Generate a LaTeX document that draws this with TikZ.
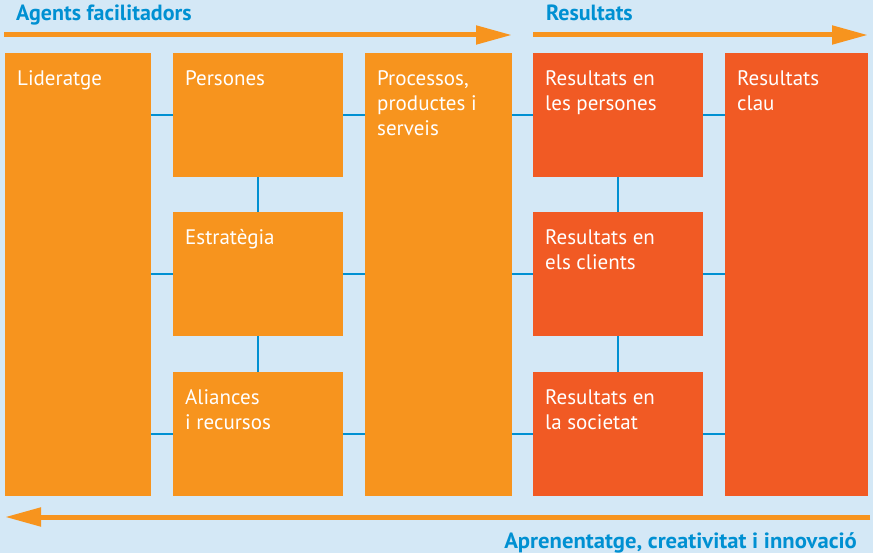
\documentclass[tikz,border=0pt]{standalone}
\usepackage{fontspec}
\setmainfont{PT Sans}
\usetikzlibrary{arrows.meta}
\definecolor{bg}{HTML}{D4E8F6}
\definecolor{orng}{HTML}{F7941E}
\definecolor{redo}{HTML}{F15A24}
\definecolor{blu}{HTML}{0090D2}
\tikzset{
  box/.style={draw=none, inner sep=0pt, outer sep=0pt, anchor=north west},
  boxtext/.style={anchor=north west, align=left, inner sep=0pt, text=white,
    font=\fontsize{21}{25}\selectfont},
  conn/.style={draw=blu, line width=2.5pt},
  bigarrow/.style={draw=orng, line width=5pt, -{Triangle[length=36pt,width=18pt]}, orng},
  head/.style={text=blu, inner sep=0pt, font=\bfseries\fontsize{22}{24}\selectfont}
}
\newcommand{\mybox}[7]{%
  \node[box, fill=#6, minimum width=#4pt, minimum height=#5pt] (#1) at (#2,#3) {};
  \node[boxtext] (#1t) at ([xshift=12pt,yshift=-17pt]#1.north west) {#7};
}
\begin{document}
\begin{tikzpicture}[x=1pt,y=-1pt]
\fill[bg] (0,0) rectangle (873,553);
\useasboundingbox (0,0) rectangle (873,553);

% boxes
\mybox{lid}{5}{53}{146}{443}{orng}{Lideratge}
\mybox{per}{173}{53}{170}{124}{orng}{Persones}
\mybox{est}{173}{212}{170}{124}{orng}{Estratègia}
\mybox{ali}{173}{372}{170}{124}{orng}{Aliances\\i recursos}
\mybox{pro}{365}{53}{147}{443}{orng}{Processos,\\productes i\\serveis}
\mybox{rp}{533}{53}{170}{124}{redo}{Resultats en\\les persones}
\mybox{rc}{533}{212}{170}{124}{redo}{Resultats en\\els clients}
\mybox{rs}{533}{372}{170}{124}{redo}{Resultats en\\la societat}
\mybox{cla}{725}{53}{143}{443}{redo}{Resultats\\clau}

% connectors
\foreach \m in {per,est,ali}{
  \draw[conn] (\m.west) -- (\m.west -| lid.east);
  \draw[conn] (\m.east) -- (\m.east -| pro.west);
}
\foreach \m in {rp,rc,rs}{
  \draw[conn] (\m.west) -- (\m.west -| pro.east);
  \draw[conn] (\m.east) -- (\m.east -| cla.west);
}
\draw[conn] (per.south) -- (est.north);
\draw[conn] (est.south) -- (ali.north);
\draw[conn] (rp.south) -- (rc.north);
\draw[conn] (rc.south) -- (rs.north);

% arrows
\coordinate (a1s) at (4,35);
\coordinate (a1e) at (512,35);
\coordinate (a2s) at (533,35);
\coordinate (a2e) at (868,35);
\coordinate (a3s) at (870,517);
\coordinate (a3e) at (5,517);
\draw[bigarrow] (a1s) -- (a1e);
\draw[bigarrow] (a2s) -- (a2e);
\draw[bigarrow] (a3s) -- (a3e);

% headings
\node[head, anchor=base west] (h1) at (16,21) {Agents facilitadors};
\node[head, anchor=base west] (h2) at (546,21) {Resultats};
\node[head, anchor=base east] (h3) at (857,548) {\scalebox{1.03}[1]{Aprenentatge, creativitat i innovació}};
\end{tikzpicture}
\end{document}
